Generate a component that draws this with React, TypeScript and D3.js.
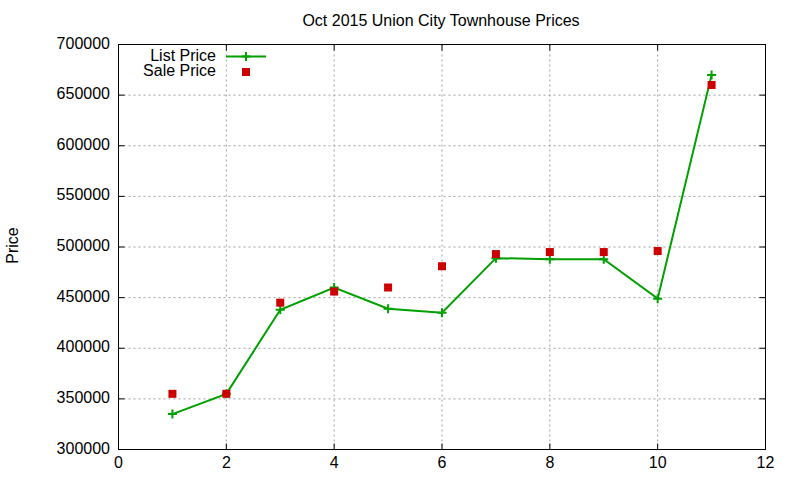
import React from "react";
import * as d3 from "d3";

const xs = [1, 2, 3, 4, 5, 6, 7, 8, 9, 10, 11];
const listPrice = [335000, 355000, 438000, 460000, 439000, 435000, 489000, 488000, 488000, 449000, 670000];
const salePrice = [355000, 355000, 445000, 456000, 460000, 481000, 493000, 495000, 495000, 496000, 660000];
const xTicks = [0, 2, 4, 6, 8, 10, 12];
const yTicks = [300000, 350000, 400000, 450000, 500000, 550000, 600000, 650000, 700000];

const W = 800, H = 480;
const L = 118.5, R = 765.5, T = 44.5, B = 449.5;
const FONT = "'Liberation Sans', Arial, sans-serif";
const FS = 16;

export default function App() {
  const x = d3.scaleLinear().domain([0, 12]).range([L, R]);
  const y = d3.scaleLinear().domain([300000, 700000]).range([B, T]);
  const line = d3.line<number>().x((_, i) => x(xs[i])).y((d) => y(d));
  const green = "#00a000";
  const red = "#cc0000";
  const plus = (cx: number, cy: number, k: string) => (
    <path key={k} d={`M${cx - 4.5},${cy}H${cx + 4.5}M${cx},${cy - 4.5}V${cy + 4.5}`} stroke={green} strokeWidth={2} />
  );
  return (
    <svg width={W} height={H} style={{ position: "absolute", left: 0, top: 0 }} fontFamily={FONT}>
      <rect width={W} height={H} fill="#fff" />
      {/* grid */}
      {xTicks.slice(1, -1).map((t) => (
        <line key={"gx" + t} x1={x(t)} x2={x(t)} y1={T} y2={B} stroke="#a0a0a0" strokeDasharray="2,3" />
      ))}
      {yTicks.slice(1, -1).map((t) => (
        <line key={"gy" + t} x1={L} x2={R} y1={y(t)} y2={y(t)} stroke="#a0a0a0" strokeDasharray="2,3" />
      ))}
      {/* ticks */}
      {xTicks.map((t) => (
        <g key={"tx" + t}>
          <line x1={x(t)} x2={x(t)} y1={B} y2={B - 6} stroke="#000" />
          <line x1={x(t)} x2={x(t)} y1={T} y2={T + 6} stroke="#000" />
          <text x={x(t)} y={468} textAnchor="middle" fontSize={FS} fill="#000">{t}</text>
        </g>
      ))}
      {yTicks.map((t) => (
        <g key={"ty" + t}>
          <line x1={L} x2={L + 6} y1={y(t)} y2={y(t)} stroke="#000" />
          <line x1={R} x2={R - 6} y1={y(t)} y2={y(t)} stroke="#000" />
          <text x={110} y={y(t) + 4} textAnchor="end" fontSize={FS} fill="#000">{t}</text>
        </g>
      ))}
      <rect x={L} y={T} width={R - L} height={B - T} fill="none" stroke="#000" />
      {/* title and labels */}
      <text x={441} y={26} textAnchor="middle" fontSize={FS} fill="#000">Oct 2015 Union City Townhouse Prices</text>
      <text transform={`translate(18,245.5) rotate(-90)`} textAnchor="middle" fontSize={FS} fill="#000">Price</text>
      {/* legend */}
      <text x={216} y={61} textAnchor="end" fontSize={FS} fill="#000">List Price</text>
      <line x1={226} x2={266} y1={56.5} y2={56.5} stroke={green} strokeWidth={2} />
      {plus(246, 56.5, "lg")}
      <text x={216} y={76} textAnchor="end" fontSize={FS} fill="#000">Sale Price</text>
      <rect x={242} y={68} width={8} height={8} fill={red} />
      {/* data */}
      <path d={line(listPrice) || ""} fill="none" stroke={green} strokeWidth={2} />
      {listPrice.map((v, i) => plus(x(xs[i]), y(v), "p" + i))}
      {salePrice.map((v, i) => (
        <rect key={"s" + i} x={x(xs[i]) - 4} y={y(v) - 4} width={8} height={8} fill={red} />
      ))}
    </svg>
  );
}
